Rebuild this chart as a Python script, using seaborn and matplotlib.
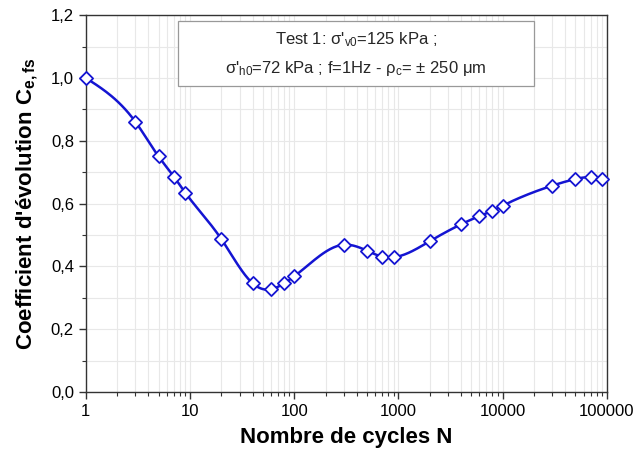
import numpy as np
import pandas as pd
import matplotlib
matplotlib.use("Agg")
import matplotlib.pyplot as plt
import matplotlib.ticker as mticker
from matplotlib.patches import Rectangle
import seaborn as sns

cycles = [1, 3, 5, 7, 9, 20, 40, 60, 80, 100, 300, 500, 700, 900,
          2000, 4000, 6000, 8000, 10000, 30000, 50000, 70000, 90000]
coef = [1.0, 0.86, 0.75, 0.686, 0.635, 0.487, 0.346, 0.327, 0.346, 0.368,
        0.469, 0.45, 0.431, 0.429, 0.48, 0.534, 0.56, 0.577, 0.593,
        0.657, 0.678, 0.684, 0.678]
yticks = [0.0, 0.2, 0.4, 0.6, 0.8, 1.0, 1.2]
xticks = [1, 10, 100, 1000, 10000, 100000]

df = pd.DataFrame({"N": cycles, "C": coef})

# smooth line (natural cubic spline in log N) like the original software
u = np.log10(df["N"].to_numpy(float))
v = df["C"].to_numpy(float)
n = len(u)
h = np.diff(u)
A = np.zeros((n, n))
b = np.zeros(n)
A[0, 0] = A[-1, -1] = 1
for i in range(1, n - 1):
    A[i, i - 1] = h[i - 1]
    A[i, i] = 2 * (h[i - 1] + h[i])
    A[i, i + 1] = h[i]
    b[i] = 6 * ((v[i + 1] - v[i]) / h[i] - (v[i] - v[i - 1]) / h[i - 1])
M = np.linalg.solve(A, b)
uu, vv = [], []
for i in range(n - 1):
    t = np.linspace(u[i], u[i + 1], 30)
    a_ = (u[i + 1] - t) / h[i]
    b_ = (t - u[i]) / h[i]
    s = (a_ * v[i] + b_ * v[i + 1]
         + ((a_ ** 3 - a_) * M[i] + (b_ ** 3 - b_) * M[i + 1]) * h[i] ** 2 / 6)
    uu.extend(t)
    vv.extend(s)
curve = pd.DataFrame({"N": 10 ** np.array(uu), "C": vv})

sns.set_theme(style="ticks")
plt.rcParams["font.family"] = ["Liberation Sans", "DejaVu Sans"]
plt.rcParams["mathtext.default"] = "regular"

fig, ax = plt.subplots(figsize=(6.4, 4.59), dpi=100)
fig.subplots_adjust(left=0.134, right=0.948, top=0.967, bottom=0.146)

blue = "#1414d2"
sns.lineplot(data=curve, x="N", y="C", sort=False, color=blue, lw=1.8, ax=ax, zorder=3)
sns.scatterplot(data=df, x="N", y="C", marker="D", s=45, facecolor="white",
                edgecolor=blue, linewidth=1.3, ax=ax, zorder=4, clip_on=False)

ax.set_xscale("log")
ax.set_xlim(1, 100000)
ax.set_ylim(0, 1.2)
ax.set_xticks(xticks)
ax.xaxis.set_major_formatter(mticker.FuncFormatter(lambda x, p: f"{int(round(x))}"))
ax.xaxis.set_minor_locator(mticker.LogLocator(base=10, subs=np.arange(2, 10)))
ax.xaxis.set_minor_formatter(mticker.NullFormatter())
ax.set_yticks(yticks)
ax.yaxis.set_major_formatter(mticker.FuncFormatter(lambda y, p: f"{y:.1f}".replace(".", ",")))
ax.yaxis.set_minor_locator(mticker.MultipleLocator(0.1))

ax.grid(True, which="both", color="#e8e8e8", lw=0.8, zorder=0)
ax.set_axisbelow(True)
for sp in ax.spines.values():
    sp.set_visible(True)
    sp.set_color("#333333")
    sp.set_linewidth(1.0)
ax.tick_params(which="major", direction="out", length=5, width=1, labelsize=12,
               colors="#333333", labelcolor="black", top=False, right=False)
ax.tick_params(which="minor", direction="out", length=3, width=0.8,
               colors="#333333", top=False, right=False)

ax.set_xlabel("Nombre de cycles N", fontsize=16, fontweight="bold", labelpad=6, color="black")
ax.set_ylabel("Coefficient d'évolution C$_{e,fs}$", fontsize=16, fontweight="bold",
              labelpad=8, color="black")

# annotation box
ax.add_patch(Rectangle((0.177, 0.812), 0.683, 0.172, transform=ax.transAxes,
                       facecolor="white", edgecolor="#999999", lw=0.9, zorder=5))
ax.text(0.518, 0.934, "Test 1: σ'$_{v0}$=125 kPa ;", transform=ax.transAxes,
        ha="center", va="center", fontsize=12, zorder=6)
ax.text(0.518, 0.859, "σ'$_{h0}$=72 kPa ; f=1Hz - ρ$_{c}$= ± 250 μm", transform=ax.transAxes,
        ha="center", va="center", fontsize=12, zorder=6)

fig.savefig("out.png", dpi=100)
